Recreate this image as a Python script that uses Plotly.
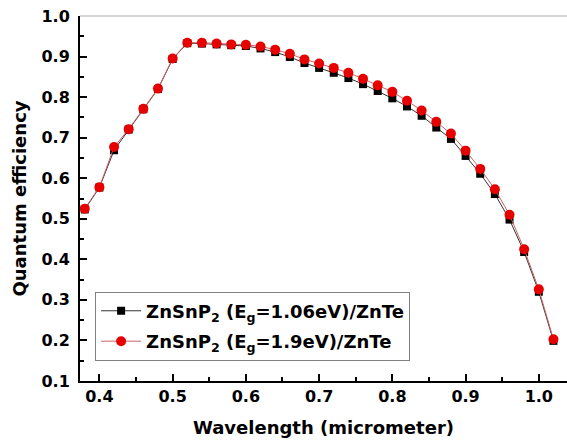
import plotly.graph_objects as go

wavelength = [0.38, 0.40, 0.42, 0.44, 0.46, 0.48, 0.50, 0.52, 0.54, 0.56, 0.58,
              0.60, 0.62, 0.64, 0.66, 0.68, 0.70, 0.72, 0.74, 0.76, 0.78, 0.80,
              0.82, 0.84, 0.86, 0.88, 0.90, 0.92, 0.94, 0.96, 0.98, 1.00, 1.02]

qe_106 = [0.523, 0.577, 0.669, 0.720, 0.770, 0.820, 0.894, 0.933, 0.932, 0.930, 0.928,
          0.926, 0.920, 0.911, 0.899, 0.884, 0.872, 0.860, 0.847, 0.832, 0.815, 0.797,
          0.777, 0.754, 0.725, 0.697, 0.655, 0.611, 0.561, 0.498, 0.418, 0.320, 0.199]

qe_19 = [0.525, 0.578, 0.677, 0.721, 0.771, 0.821, 0.895, 0.934, 0.934, 0.932, 0.930,
         0.929, 0.925, 0.917, 0.907, 0.893, 0.883, 0.872, 0.860, 0.845, 0.829, 0.813,
         0.791, 0.767, 0.739, 0.710, 0.668, 0.623, 0.573, 0.510, 0.425, 0.326, 0.203]

names = ["ZnSnP<sub>2</sub> (E<sub>g</sub>=1.06eV)/ZnTe",
         "ZnSnP<sub>2</sub> (E<sub>g</sub>=1.9eV)/ZnTe"]

FONT = "DejaVu Sans"

fig = go.Figure()
fig.add_trace(go.Scatter(
    x=wavelength, y=qe_106, name=names[0], mode="lines+markers", legendgroup="a",
    line=dict(color="#333333", width=1),
    marker=dict(symbol="square", size=8, color="#000000"),
))
fig.add_trace(go.Scatter(
    x=wavelength, y=qe_19, name=names[1], mode="lines+markers", legendgroup="b",
    line=dict(color="#c86464", width=1),
    marker=dict(symbol="circle", size=10, color="#e60000"),
))

fig.update_layout(
    width=567, height=444,
    margin=dict(l=80, r=0, t=16, b=63),
    paper_bgcolor="white", plot_bgcolor="white",
    font=dict(family=FONT, color="black"),
    showlegend=True,
    legend=dict(
        x=0.031, y=0.245, xanchor="left", yanchor="top",
        bordercolor="#808080", borderwidth=1, bgcolor="white",
        font=dict(family=FONT, size=18, color="black", weight="bold"),
        tracegroupgap=4, itemwidth=40,
    ),
    shapes=[dict(type="line", xref="paper", yref="paper", x0=0, x1=1, y0=1, y1=1,
                 line=dict(color="#c8c8c8", width=1.5))],
)

fig.update_xaxes(
    range=[0.3735, 1.0385], dtick=0.1, tick0=0.4, tickformat=".1f",
    showline=True, linecolor="black", linewidth=2,
    ticks="inside", ticklen=7, tickwidth=2, tickcolor="black",
    minor=dict(ticks="inside", ticklen=4, tickwidth=2, dtick=0.05, tickcolor="black"),
    showgrid=False, zeroline=False,
    tickfont=dict(family=FONT, size=16, color="black", weight="bold"),
    title=dict(text="Wavelength (micrometer)", standoff=16,
               font=dict(family=FONT, size=18, color="black", weight="bold")),
)
fig.update_yaxes(
    range=[0.1, 1.0], dtick=0.1, tick0=0.1, tickformat=".1f",
    showline=True, linecolor="black", linewidth=2,
    ticks="inside", ticklen=7, tickwidth=2, tickcolor="black",
    minor=dict(ticks="inside", ticklen=4, tickwidth=2, dtick=0.05, tickcolor="black"),
    showgrid=False, zeroline=False, ticklabelstandoff=5,
    tickfont=dict(family=FONT, size=16, color="black", weight="bold"),
    title=dict(text="Quantum efficiency", standoff=10,
               font=dict(family=FONT, size=18, color="black", weight="bold")),
)

fig.write_html("out.html")
